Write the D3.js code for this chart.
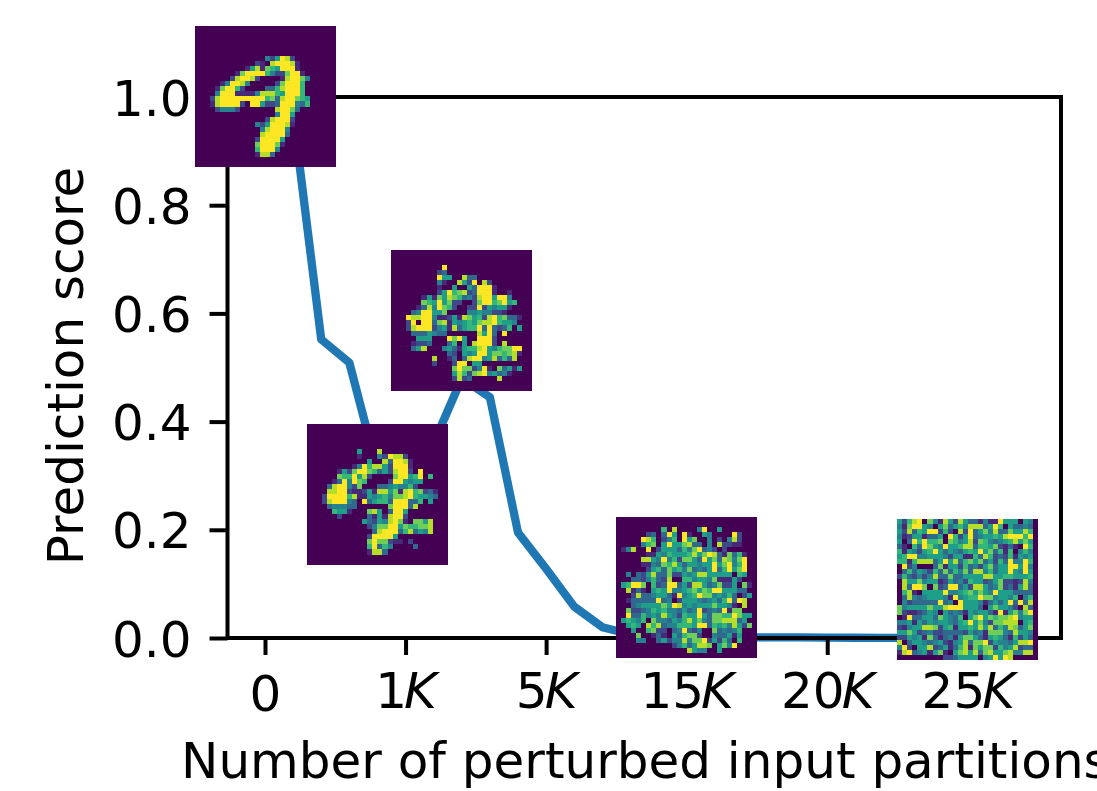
<!DOCTYPE html>
<meta charset="utf-8">
<style>
body { margin: 0; background: #fff; }
svg { display: block; font-family: "DejaVu Sans"; }
.tick line { stroke: #000; stroke-width: 4px; }
.tick text { font-size: 50px; fill: #000; font-family: "DejaVu Sans"; }
.label { font-size: 50px; fill: #000; }
.line { fill: none; stroke: #1f77b4; stroke-width: 8.3px; stroke-linejoin: round; }
</style>
<body>
<script src="https://d3js.org/d3.v7.min.js"></script>
<script>

// the plotted series, one score per step
var stepIndex = [0,1,2,3,4,5,6,7,8,9,10,11,12,13,14,15,16,17,18,19,20,21,22,23,24,25,26,27];
var scores = [1.0,0.97,0.552,0.509,0.31,0.25,0.36,0.48,0.445,0.195,0.128,0.058,0.02,0.007,0.003,0.001,0.001,0.001,0.001,0.001,0.0007,0.0005,0.0003,0.0002,0.0001,0.0001,0,0];

var xTickSteps = [0,5,10,15,20,25];
var xTickNumbers = ["0","1","5","15","20","25"];
var xTickUnits = ["","K","K","K","K","K"];
var yTicks = [0,0.2,0.4,0.6,0.8,1.0];

// where the thumbnails sit (step, score at their centre)
var thumbStep = [0,4,7,15,25];
var thumbScore = [1.001,0.266,0.587,0.0933,0.0896];

// thumbnails, 28 rows, one digit per pixel (0-9 along viridis), trailing zeros dropped
var thumb0 = ["","","","","","",
"0000000000000042598200000000",
"0000000000002108999810000000",
"0000000000158176599910000000",
"0000000017999964227991000000",
"0000000289982000018997400000",
"0000014998400000279996",
"0000179962000033689996",
"0000499911114888659996",
"00028999999999673899765",
"00018999920995223999436",
"0000244420000000899730",
"0000000000000000499500",
"0000000000000028999200",
"0000000000004259998100",
"0000000000000489994",
"0000000000000899993",
"000000000000299995",
"000000000000799971",
"00000000000069994",
"0000000000001883",
"",""];
var thumb1 = ["","","",
"00000000009",
"00000000023",
"00000000095500833",
"00000000041008529082",
"000000000100500539991",
"000000000259678239991001",
"000000151758763428995994",
"0000007659572200279967956",
"000001384976200229254551",
"00003499557000044544221",
"00098899411251875628967331",
"0002909937815456578896554",
"00028999245183566939323605",
"00003335433000000859309",
"000005550009795009992",
"00001223000360508999208",
"00003580004531566895467799",
"00000000000320545995776781",
"0000000080013038994583638",
"000000002000299055",
"00000000000079772491073515",
"000000000000586278945341",
"0000000000002823000008",
"",""];
var thumb2 = ["","","","","",
"000000000050008",
"00000000001000429882",
"000000000000500839981",
"000000000149688529991",
"00000015279976352899209",
"0000007669582000079956906",
"00000139497600002995455",
"0000389942700033454462",
"00008899211251885718967231",
"00029999681154564778965543",
"0002899943093566399933605",
"0000344433000000799938",
"00000655100078503995",
"00000020000031518992",
"0000000000053254897107758",
"0000000000002477995766778",
"0000000000000389993683548",
"000000000000299995",
"000000000000797721102",
"0000000000006936400003",
"0000000000001883",
"",""];
var thumb3 = ["","",
"000000000608000049005",
"0000002303950910054000092",
"0000098602460957004020482",
"0000046705955783304082211",
"0148009025553647934202",
"00000011546555685798317361",
"00000885494627753957387479",
"00000114376853554559579469",
"00000025637564734359369579",
"00403258337225458855555065",
"0003324632800664554711152",
"056997062399352885347225071",
"00813105659445675769955533",
"000283345531945697745463025",
"00133333934025554345369398",
"00034555575984545557554108",
"0072234656443534923439177",
"009336454854265595377669755",
"05654607443546857437788835",
"005650868344666599365648527",
"0005006722034932400734346",
"0000700131053677200433515",
"0000440035244847792526306",
"000000000002463588705749",
"000000000000008544005",
""];
var thumb4 = [
"5268907418528533141195550540",
"4179954057356488835960533430",
"5283659926208293574833755860",
"4125513350962593455658999690",
"5039696670764582764345685750",
"3106397549556883665721310960",
"6154256953543565957361604640",
"5699445554255116386232615450",
"6616888359583675735263944960",
"0924000371552634257355995940",
"0363542637364738846355954950",
"2632424833733555588556655560",
"0855745512534265523572212840",
"0839970723993528853472315830",
"0681055559445675754955533330",
"0384345554194566977455460460",
"0423333393409555413535939380",
"7455557558999555305755420830",
"7211235405343154553191574790",
"0193355375436057957677894550",
"4451535455435695742778880560",
"2145588725615565858364873570",
"5575234223333253417774385540",
"2254517313415775315653162530",
"8035543452145837792544358890",
"4920558235136817577264582330",
"1893451571057858378557844880",
"0000000002235555045959800000"];

var rowCount = 28;
var thumbs = [thumb0, thumb2, thumb1, thumb3, thumb4];
var thumbPx = 141;

// set the dimensions of the axes box
var width = 1097, height = 791;
var left = 227.5, right = 1061, top_ = 97, bottom = 638;

var x = d3.scaleLinear().domain([0, 27]).range([265, 1024]);
var y = d3.scaleLinear().domain([0, 1]).range([bottom, top_]);

var svg = d3.select("body").append("svg")
    .attr("width", width)
    .attr("height", height);

// the line
var valueline = d3.line()
    .x(function(d, i) { return x(stepIndex[i]); })
    .y(function(d) { return y(d); });

svg.append("path")
    .datum(scores)
    .attr("class", "line")
    .attr("d", valueline);

// box
svg.append("rect")
    .attr("x", left).attr("y", top_)
    .attr("width", right - left).attr("height", bottom - top_)
    .attr("fill", "none").attr("stroke", "#000").attr("stroke-width", 4);

// Add the X Axis
var xAxis = svg.append("g")
    .attr("transform", "translate(0," + bottom + ")")
    .call(d3.axisBottom(x).tickValues(xTickSteps).tickSize(17).tickPadding(17.5).tickFormat(function() { return ""; }));
xAxis.select(".domain").remove();
xAxis.selectAll(".tick text").each(function(d, i) {
  var t = d3.select(this);
  t.append("tspan").text(xTickNumbers[i]);
  t.append("tspan").attr("dx", -3).style("font-style", "italic").text(xTickUnits[i]);
  if (xTickUnits[i] === "") t.attr("y", 37.5); // plain "0" sits a little lower than the math labels
});

// Add the Y Axis
var yAxis = svg.append("g")
    .attr("transform", "translate(" + left + ",0)")
    .call(d3.axisLeft(y).tickValues(yTicks).tickSize(18).tickPadding(18).tickFormat(d3.format(".1f")));
yAxis.select(".domain").remove();
yAxis.selectAll(".tick text").attr("dy", "0.36em");

// axis titles
svg.append("text")
    .attr("class", "label")
    .attr("transform", "translate(83,366) rotate(-90)")
    .attr("text-anchor", "middle")
    .text("Prediction score");

svg.append("text")
    .attr("class", "label")
    .attr("x", 181)
    .attr("y", 778)
    .text("Number of perturbed input partitions");

// thumbnails, on top of line, ticks and box
var color = function(v) { return d3.interpolateViridis(v / 9); };

thumbs.forEach(function(rows, k) {
  var cx = x(thumbStep[k]), cy = y(thumbScore[k]);
  var cols = d3.scaleBand().domain(d3.range(rowCount)).range([cx - thumbPx / 2, cx + thumbPx / 2]);
  var rws = d3.scaleBand().domain(d3.range(rowCount)).range([cy - thumbPx / 2, cy + thumbPx / 2]);
  var g = svg.append("g").attr("shape-rendering", "crispEdges");
  g.append("rect")
      .attr("x", cx - thumbPx / 2).attr("y", cy - thumbPx / 2)
      .attr("width", thumbPx).attr("height", thumbPx)
      .attr("fill", color(0));
  rows.forEach(function(row, r) {
    g.selectAll(".c" + r)
        .data(row.split("").map(Number))
      .enter().append("rect")
        .attr("x", function(d, c) { return cols(c); })
        .attr("y", rws(r))
        .attr("width", cols.bandwidth())
        .attr("height", rws.bandwidth())
        .attr("fill", function(d) { return color(d); });
  });
});

</script>
</body>
